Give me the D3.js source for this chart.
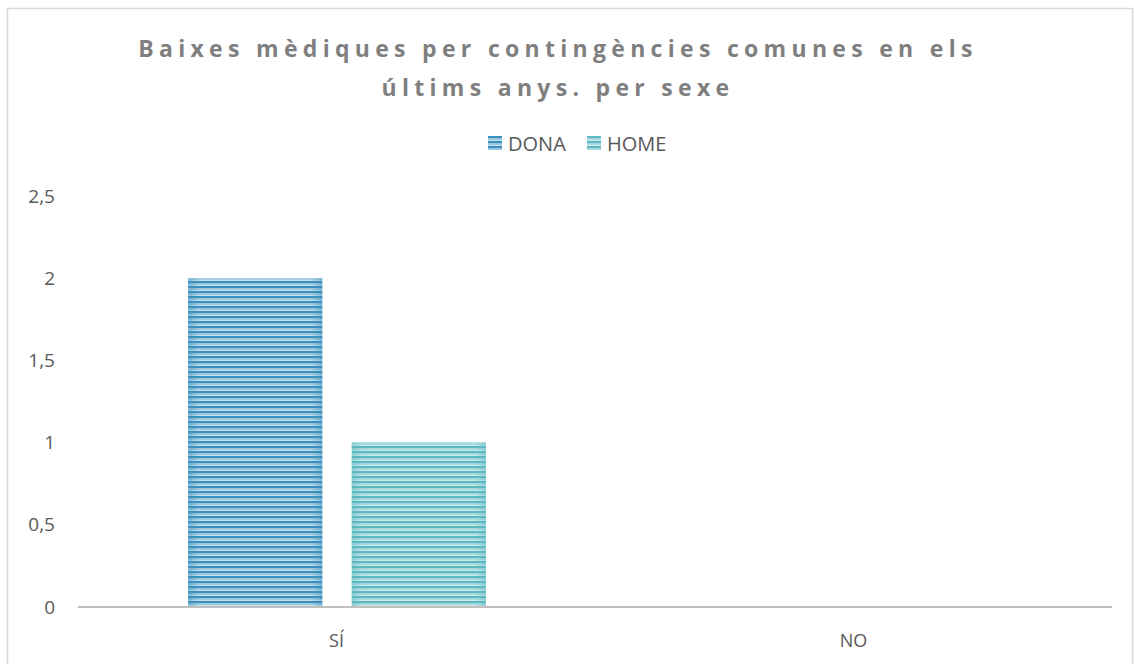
<!DOCTYPE html>
<html>
<head>
<meta charset="utf-8">
<script src="https://cdn.jsdelivr.net/npm/d3@7"></script>
<style>
  body { margin: 0; background: #fff; }
  #chart text { font-family: "Open Sans", "Noto Sans", sans-serif; }
</style>
</head>
<body>
<div id="chart"></div>
<script>
const W = 1134, H = 664
const margin = { top: 196, right: 22, bottom: 57, left: 78 }

// data
const categories = ['SÍ', 'NO']
const seriesNames = ['DONA', 'HOME']
const dona = [2, 0]
const home = [1, 0]
const yTicks = [0, 0.5, 1, 1.5, 2, 2.5]
const titleLines = ['Baixes mèdiques per contingències comunes en els', 'últims anys. per sexe']

const colors = { DONA: ['#3a8fbd', '#d6ebf4'], HOME: ['#5cb9c2', '#d8efef'] }

const svg = d3.select('#chart').append('svg')
  .attr('width', W).attr('height', H)

// chart frame
svg.append('rect')
  .attr('x', 7.5).attr('y', 8.5)
  .attr('width', W - 9).attr('height', H)
  .attr('fill', '#fff').attr('stroke', '#d9d9d9').attr('stroke-width', 1.5)

// striped patterns
const defs = svg.append('defs')
seriesNames.forEach(function (s) {
  const p = defs.append('pattern')
    .attr('id', 'pat-' + s)
    .attr('patternUnits', 'userSpaceOnUse')
    .attr('width', 10).attr('height', 5)
  p.append('rect').attr('width', 10).attr('height', 5).attr('fill', colors[s][1])
  p.append('rect').attr('y', 0).attr('width', 10).attr('height', 2.4).attr('fill', colors[s][0])
  p.append('rect').attr('y', 3.4).attr('width', 10).attr('height', 0.8).attr('fill', colors[s][0]).attr('opacity', 0.6)

  const g = defs.append('linearGradient').attr('id', 'edge-' + s)
  g.append('stop').attr('offset', '0%').attr('stop-color', colors[s][0]).attr('stop-opacity', 0.45)
  g.append('stop').attr('offset', '8%').attr('stop-color', colors[s][0]).attr('stop-opacity', 0)
  g.append('stop').attr('offset', '92%').attr('stop-color', colors[s][0]).attr('stop-opacity', 0)
  g.append('stop').attr('offset', '100%').attr('stop-color', colors[s][0]).attr('stop-opacity', 0.45)
})

const plotW = W - margin.left - margin.right
const plotH = H - margin.top - margin.bottom

const x0 = d3.scaleBand().domain(categories).range([0, plotW])
const x1 = d3.scaleBand().domain(seriesNames).range([x0.bandwidth() * 0.213, x0.bandwidth() * 0.789]).paddingInner(0.18)
const y = d3.scaleLinear().domain([0, 2.5]).range([plotH, 0])

const g = svg.append('g').attr('transform', `translate(${margin.left},${margin.top})`)

// y labels
g.selectAll('.ylab')
  .data(yTicks)
  .enter()
  .append('text')
  .attr('x', -23)
  .attr('y', function (d) { return y(d) })
  .attr('dy', '0.35em')
  .attr('text-anchor', 'end')
  .attr('font-size', 19)
  .attr('fill', '#595959')
  .text(function (d) { return d3.format('.1~f')(d).replace('.', ',') })

// bars
const rows = []
categories.forEach(function (c, i) {
  rows.push({ cat: c, s: 'DONA', v: dona[i] })
  rows.push({ cat: c, s: 'HOME', v: home[i] })
})
const bars = g.selectAll('.bar').data(rows.filter(function (d) { return d.v > 0 })).enter()
bars.append('rect')
  .attr('x', function (d) { return x0(d.cat) + x1(d.s) })
  .attr('y', function (d) { return y(d.v) })
  .attr('width', x1.bandwidth())
  .attr('height', function (d) { return plotH - y(d.v) })
  .attr('fill', function (d) { return 'url(#pat-' + d.s + ')' })
bars.append('rect')
  .attr('x', function (d) { return x0(d.cat) + x1(d.s) })
  .attr('y', function (d) { return y(d.v) })
  .attr('width', x1.bandwidth())
  .attr('height', function (d) { return plotH - y(d.v) })
  .attr('fill', function (d) { return 'url(#edge-' + d.s + ')' })

// x axis line
g.append('line')
  .attr('x1', 0).attr('x2', plotW)
  .attr('y1', plotH).attr('y2', plotH)
  .attr('stroke', '#bfbfbf').attr('stroke-width', 2)

// x labels
g.selectAll('.xlab')
  .data(categories)
  .enter()
  .append('text')
  .attr('x', function (d) { return x0(d) + x0.bandwidth() / 2 })
  .attr('y', plotH + 40)
  .attr('text-anchor', 'middle')
  .attr('font-size', 18)
  .attr('fill', '#595959')
  .text(function (d) { return d })

// title
svg.selectAll('.title')
  .data(titleLines)
  .enter()
  .append('text')
  .attr('x', 558)
  .attr('y', function (d, i) { return 57 + i * 39 })
  .attr('text-anchor', 'middle')
  .attr('font-size', 23)
  .attr('font-weight', 'bold')
  .attr('letter-spacing', 5.3)
  .attr('fill', '#7f7f7f')
  .text(function (d) { return d })

// legend
const legend = svg.append('g').attr('transform', 'translate(488,136)')
const legX = [0, 99]
seriesNames.forEach(function (s, i) {
  legend.append('rect')
    .attr('x', legX[i]).attr('y', 0)
    .attr('width', 14).attr('height', 14)
    .attr('fill', 'url(#pat-' + s + ')')
  legend.append('text')
    .attr('x', legX[i] + 20).attr('y', 14.5)
    .attr('font-size', 20)
    .attr('fill', '#595959')
    .text(s)
})
</script>
</body>
</html>
